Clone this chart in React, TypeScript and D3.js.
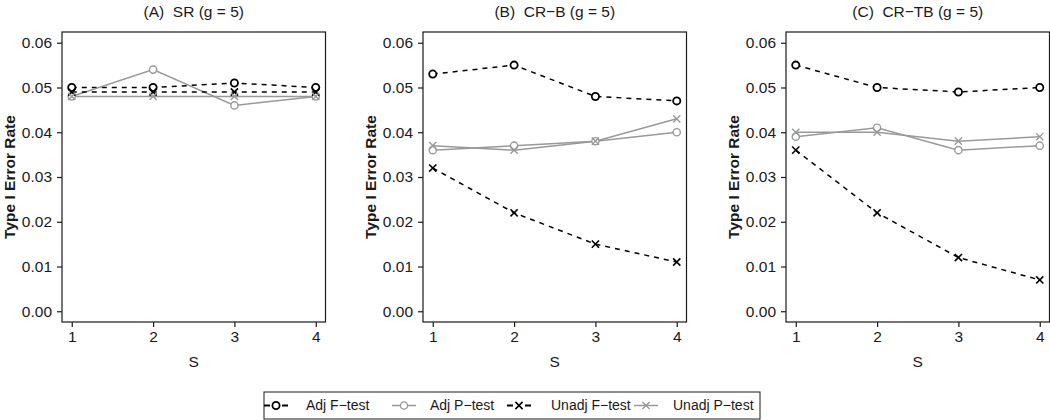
import React, { useEffect, useRef } from 'react';
import * as d3 from 'd3';

// x values (S) and y ticks
const sValues = [1, 2, 3, 4];
const yTicks = [0, 0.01, 0.02, 0.03, 0.04, 0.05, 0.06];

const panelTitles = ['(A)  SR (g = 5)', '(B)  CR\u2212B (g = 5)', '(C)  CR\u2212TB (g = 5)'];

// series values per panel: [A, B, C]
const adjF = [
  [0.050, 0.050, 0.051, 0.050],
  [0.053, 0.055, 0.048, 0.047],
  [0.055, 0.050, 0.049, 0.050],
];
const adjP = [
  [0.048, 0.054, 0.046, 0.048],
  [0.036, 0.037, 0.038, 0.040],
  [0.039, 0.041, 0.036, 0.037],
];
const unadjF = [
  [0.049, 0.049, 0.049, 0.049],
  [0.032, 0.022, 0.015, 0.011],
  [0.036, 0.022, 0.012, 0.007],
];
const unadjP = [
  [0.048, 0.048, 0.048, 0.048],
  [0.037, 0.036, 0.038, 0.043],
  [0.040, 0.040, 0.038, 0.039],
];

const seriesNames = ['Adj F\u2212test', 'Adj P\u2212test', 'Unadj F\u2212test', 'Unadj P\u2212test'];

const FONT = "'Liberation Sans', Arial, Helvetica, sans-serif";
const GRAY = '#999999';

const App = () => {
  const chartRef = useRef<SVGSVGElement>(null);

  useEffect(() => {
    const svg = d3.select(chartRef.current);
    svg.selectAll('*').remove();

    const styles = [
      { data: adjF, color: '#000', dash: '5,5', pch: 'circle', width: 1.5 },
      { data: adjP, color: GRAY, dash: null, pch: 'circle', width: 1.5 },
      { data: unadjF, color: '#000', dash: '5,5', pch: 'cross', width: 1.5 },
      { data: unadjP, color: GRAY, dash: null, pch: 'cross', width: 1.5 },
    ];

    const drawPoint = (g, x, y, s) => {
      if (s.pch === 'circle') {
        g.append('circle')
          .attr('cx', x).attr('cy', y).attr('r', 3.6)
          .attr('fill', 'white')
          .attr('stroke', s.color)
          .attr('stroke-width', s.color === '#000' ? 1.8 : 1.4);
      } else {
        const r = 3.6;
        g.append('path')
          .attr('d', `M${x - r},${y - r}L${x + r},${y + r}M${x - r},${y + r}L${x + r},${y - r}`)
          .attr('stroke', s.color)
          .attr('stroke-width', s.color === '#000' ? 1.6 : 1.4);
      }
    };

    const panelLefts = [62, 423, 786];
    const pw = 263.5;
    const top = 32;
    const bottom = 322;

    panelLefts.forEach((left, p) => {
      // R style: 4% padding on both axes
      const xPad = (pw / 1.08) * 0.04;
      const x = d3.scaleLinear().domain([1, 4]).range([left + xPad, left + pw - xPad]);
      const ph = bottom - top;
      const yPad = (ph / 1.08) * 0.04;
      const y = d3.scaleLinear().domain([0, 0.06]).range([bottom - yPad, top + yPad]);

      const g = svg.append('g');

      // series
      styles.forEach((s) => {
        const vals = s.data[p];
        const line = d3.line<number>()
          .x((d, i) => x(sValues[i]))
          .y((d) => y(d));
        g.append('path')
          .attr('d', line(vals))
          .attr('fill', 'none')
          .attr('stroke', s.color)
          .attr('stroke-width', s.width)
          .attr('stroke-dasharray', s.dash);
      });
      styles.forEach((s) => {
        s.data[p].forEach((v, i) => drawPoint(g, x(sValues[i]), y(v), s));
      });

      // box
      g.append('rect')
        .attr('x', left).attr('y', top)
        .attr('width', pw).attr('height', bottom - top)
        .attr('fill', 'none')
        .attr('stroke', '#1a1a1a')
        .attr('stroke-width', 1.2);

      // axes
      const xAxis = d3.axisBottom(x).tickValues(sValues).tickFormat(d3.format('d')).tickSize(5).tickPadding(4);
      const yAxis = d3.axisLeft(y).tickValues(yTicks).tickFormat(d3.format('.2f')).tickSize(5).tickPadding(5);

      const xa = g.append('g').attr('transform', `translate(0, ${bottom})`).call(xAxis);
      const ya = g.append('g').attr('transform', `translate(${left}, 0)`).call(yAxis);
      [xa, ya].forEach((a) => {
        a.select('.domain').remove();
        a.selectAll('line').attr('stroke', '#1a1a1a').attr('stroke-width', 1.2);
        a.selectAll('text').attr('font-family', FONT).attr('font-size', 15.5).attr('fill', '#1a1a1a');
      });

      // title
      g.append('text')
        .attr('x', left + pw / 2).attr('y', 17)
        .attr('text-anchor', 'middle')
        .attr('font-family', FONT).attr('font-size', 15.5)
        .attr('fill', '#1a1a1a')
        .style('white-space', 'pre')
        .text(panelTitles[p]);

      // x label
      g.append('text')
        .attr('x', left + pw / 2).attr('y', 367)
        .attr('text-anchor', 'middle')
        .attr('font-family', FONT).attr('font-size', 15.5)
        .attr('fill', '#1a1a1a')
        .text('S');

      // y label
      g.append('text')
        .attr('transform', `translate(${left - 47}, ${(top + bottom) / 2}) rotate(-90)`)
        .attr('text-anchor', 'middle')
        .attr('font-family', FONT).attr('font-size', 15.5)
        .attr('font-weight', 'bold')
        .attr('fill', '#1a1a1a')
        .text('Type I Error Rate');
    });

    // legend
    const legend = svg.append('g');
    legend.append('rect')
      .attr('x', 264).attr('y', 392)
      .attr('width', 496).attr('height', 27)
      .attr('fill', 'white')
      .attr('stroke', '#1a1a1a')
      .attr('stroke-width', 1);

    const symCenters = [276, 404, 519, 646];
    const textStarts = [306, 430, 551, 673];
    const ly = 405.5;
    styles.forEach((s, i) => {
      legend.append('line')
        .attr('x1', symCenters[i] - 12).attr('x2', symCenters[i] + 12)
        .attr('y1', ly).attr('y2', ly)
        .attr('stroke', s.color)
        .attr('stroke-width', s.color === '#000' ? 2 : 1.5)
        .attr('stroke-dasharray', s.dash ? '6,12' : null);
      drawPoint(legend, symCenters[i], ly, s);
      legend.append('text')
        .attr('x', textStarts[i]).attr('y', ly)
        .attr('dy', '0.35em')
        .attr('font-family', FONT).attr('font-size', 14)
        .attr('fill', '#1a1a1a')
        .text(seriesNames[i]);
    });
  }, []);

  return (
    <div style={{ position: 'absolute', left: 0, top: 0 }}>
      <svg ref={chartRef} width={1050} height={420} style={{ display: 'block', background: 'white' }} />
    </div>
  );
};

export default App;
